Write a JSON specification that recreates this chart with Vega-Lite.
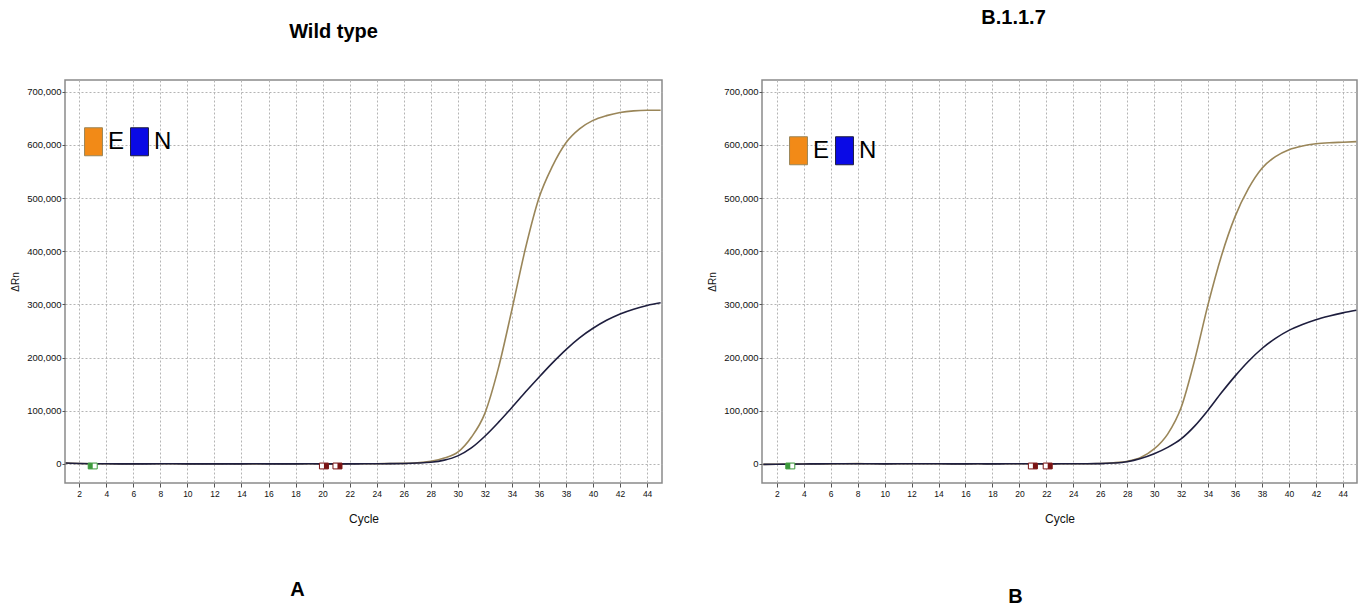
{
  "$schema": "https://vega.github.io/schema/vega-lite/v6.json",
  "padding": {"left": 9, "top": 7, "right": 0, "bottom": 0},
  "background": "white",
  "config": {
    "view": {"stroke": "#8a8a8a", "strokeWidth": 1.5},
    "axis": {
      "domain": false,
      "tickColor": "#555",
      "tickSize": 3,
      "labelColor": "#111",
      "labelFont": "Liberation Sans",
      "gridColor": "#b4b4b4",
      "gridDash": [2, 2],
      "gridWidth": 1,
      "titleFont": "Liberation Sans",
      "titleFontWeight": "normal",
      "titleColor": "#111"
    },
    "title": {"font": "Liberation Sans", "fontSize": 20, "fontWeight": "bold", "color": "#000", "frame": "group"}
  },
  "datasets": {
    "curves": [
      {"sample":"WT","gene":"E","cycle":1,"drn":1500},{"sample":"WT","gene":"E","cycle":2,"drn":800},{"sample":"WT","gene":"E","cycle":3,"drn":300},{"sample":"WT","gene":"E","cycle":4,"drn":100},{"sample":"WT","gene":"E","cycle":5,"drn":0},{"sample":"WT","gene":"E","cycle":6,"drn":0},{"sample":"WT","gene":"E","cycle":7,"drn":100},{"sample":"WT","gene":"E","cycle":8,"drn":200},{"sample":"WT","gene":"E","cycle":9,"drn":100},{"sample":"WT","gene":"E","cycle":10,"drn":0},{"sample":"WT","gene":"E","cycle":11,"drn":-100},{"sample":"WT","gene":"E","cycle":12,"drn":0},{"sample":"WT","gene":"E","cycle":13,"drn":100},{"sample":"WT","gene":"E","cycle":14,"drn":0},{"sample":"WT","gene":"E","cycle":15,"drn":0},{"sample":"WT","gene":"E","cycle":16,"drn":100},{"sample":"WT","gene":"E","cycle":17,"drn":0},{"sample":"WT","gene":"E","cycle":18,"drn":0},{"sample":"WT","gene":"E","cycle":19,"drn":100},{"sample":"WT","gene":"E","cycle":20,"drn":0},{"sample":"WT","gene":"E","cycle":21,"drn":0},{"sample":"WT","gene":"E","cycle":22,"drn":100},{"sample":"WT","gene":"E","cycle":23,"drn":200},{"sample":"WT","gene":"E","cycle":24,"drn":300},{"sample":"WT","gene":"E","cycle":25,"drn":500},{"sample":"WT","gene":"E","cycle":26,"drn":900},{"sample":"WT","gene":"E","cycle":27,"drn":2000},{"sample":"WT","gene":"E","cycle":28,"drn":5000},{"sample":"WT","gene":"E","cycle":29,"drn":11000},{"sample":"WT","gene":"E","cycle":30,"drn":22000},{"sample":"WT","gene":"E","cycle":31,"drn":50000},{"sample":"WT","gene":"E","cycle":32,"drn":95000},{"sample":"WT","gene":"E","cycle":33,"drn":180000},{"sample":"WT","gene":"E","cycle":34,"drn":290000},{"sample":"WT","gene":"E","cycle":35,"drn":405000},{"sample":"WT","gene":"E","cycle":36,"drn":500000},{"sample":"WT","gene":"E","cycle":37,"drn":560000},{"sample":"WT","gene":"E","cycle":38,"drn":604000},{"sample":"WT","gene":"E","cycle":39,"drn":630000},{"sample":"WT","gene":"E","cycle":40,"drn":646000},{"sample":"WT","gene":"E","cycle":41,"drn":655000},{"sample":"WT","gene":"E","cycle":42,"drn":661000},{"sample":"WT","gene":"E","cycle":43,"drn":664000},{"sample":"WT","gene":"E","cycle":44,"drn":665000},{"sample":"WT","gene":"E","cycle":45,"drn":665000},
      {"sample":"WT","gene":"N","cycle":1,"drn":1500},{"sample":"WT","gene":"N","cycle":2,"drn":800},{"sample":"WT","gene":"N","cycle":3,"drn":300},{"sample":"WT","gene":"N","cycle":4,"drn":100},{"sample":"WT","gene":"N","cycle":5,"drn":0},{"sample":"WT","gene":"N","cycle":6,"drn":0},{"sample":"WT","gene":"N","cycle":7,"drn":0},{"sample":"WT","gene":"N","cycle":8,"drn":100},{"sample":"WT","gene":"N","cycle":9,"drn":100},{"sample":"WT","gene":"N","cycle":10,"drn":0},{"sample":"WT","gene":"N","cycle":11,"drn":0},{"sample":"WT","gene":"N","cycle":12,"drn":-100},{"sample":"WT","gene":"N","cycle":13,"drn":0},{"sample":"WT","gene":"N","cycle":14,"drn":0},{"sample":"WT","gene":"N","cycle":15,"drn":100},{"sample":"WT","gene":"N","cycle":16,"drn":0},{"sample":"WT","gene":"N","cycle":17,"drn":0},{"sample":"WT","gene":"N","cycle":18,"drn":0},{"sample":"WT","gene":"N","cycle":19,"drn":100},{"sample":"WT","gene":"N","cycle":20,"drn":0},{"sample":"WT","gene":"N","cycle":21,"drn":0},{"sample":"WT","gene":"N","cycle":22,"drn":0},{"sample":"WT","gene":"N","cycle":23,"drn":100},{"sample":"WT","gene":"N","cycle":24,"drn":200},{"sample":"WT","gene":"N","cycle":25,"drn":400},{"sample":"WT","gene":"N","cycle":26,"drn":700},{"sample":"WT","gene":"N","cycle":27,"drn":1500},{"sample":"WT","gene":"N","cycle":28,"drn":3000},{"sample":"WT","gene":"N","cycle":29,"drn":7000},{"sample":"WT","gene":"N","cycle":30,"drn":15000},{"sample":"WT","gene":"N","cycle":31,"drn":30000},{"sample":"WT","gene":"N","cycle":32,"drn":52000},{"sample":"WT","gene":"N","cycle":33,"drn":78000},{"sample":"WT","gene":"N","cycle":34,"drn":106000},{"sample":"WT","gene":"N","cycle":35,"drn":135000},{"sample":"WT","gene":"N","cycle":36,"drn":163000},{"sample":"WT","gene":"N","cycle":37,"drn":190000},{"sample":"WT","gene":"N","cycle":38,"drn":215000},{"sample":"WT","gene":"N","cycle":39,"drn":237000},{"sample":"WT","gene":"N","cycle":40,"drn":255000},{"sample":"WT","gene":"N","cycle":41,"drn":270000},{"sample":"WT","gene":"N","cycle":42,"drn":282000},{"sample":"WT","gene":"N","cycle":43,"drn":291000},{"sample":"WT","gene":"N","cycle":44,"drn":298000},{"sample":"WT","gene":"N","cycle":45,"drn":303000},
      {"sample":"B117","gene":"E","cycle":1,"drn":-1000},{"sample":"B117","gene":"E","cycle":2,"drn":-800},{"sample":"B117","gene":"E","cycle":3,"drn":-500},{"sample":"B117","gene":"E","cycle":4,"drn":-200},{"sample":"B117","gene":"E","cycle":5,"drn":0},{"sample":"B117","gene":"E","cycle":6,"drn":0},{"sample":"B117","gene":"E","cycle":7,"drn":200},{"sample":"B117","gene":"E","cycle":8,"drn":400},{"sample":"B117","gene":"E","cycle":9,"drn":200},{"sample":"B117","gene":"E","cycle":10,"drn":0},{"sample":"B117","gene":"E","cycle":11,"drn":100},{"sample":"B117","gene":"E","cycle":12,"drn":300},{"sample":"B117","gene":"E","cycle":13,"drn":200},{"sample":"B117","gene":"E","cycle":14,"drn":100},{"sample":"B117","gene":"E","cycle":15,"drn":0},{"sample":"B117","gene":"E","cycle":16,"drn":0},{"sample":"B117","gene":"E","cycle":17,"drn":100},{"sample":"B117","gene":"E","cycle":18,"drn":0},{"sample":"B117","gene":"E","cycle":19,"drn":200},{"sample":"B117","gene":"E","cycle":20,"drn":300},{"sample":"B117","gene":"E","cycle":21,"drn":100},{"sample":"B117","gene":"E","cycle":22,"drn":0},{"sample":"B117","gene":"E","cycle":23,"drn":100},{"sample":"B117","gene":"E","cycle":24,"drn":200},{"sample":"B117","gene":"E","cycle":25,"drn":300},{"sample":"B117","gene":"E","cycle":26,"drn":600},{"sample":"B117","gene":"E","cycle":27,"drn":2000},{"sample":"B117","gene":"E","cycle":28,"drn":5000},{"sample":"B117","gene":"E","cycle":29,"drn":12000},{"sample":"B117","gene":"E","cycle":30,"drn":28000},{"sample":"B117","gene":"E","cycle":31,"drn":56000},{"sample":"B117","gene":"E","cycle":32,"drn":106000},{"sample":"B117","gene":"E","cycle":33,"drn":195000},{"sample":"B117","gene":"E","cycle":34,"drn":300000},{"sample":"B117","gene":"E","cycle":35,"drn":392000},{"sample":"B117","gene":"E","cycle":36,"drn":465000},{"sample":"B117","gene":"E","cycle":37,"drn":518000},{"sample":"B117","gene":"E","cycle":38,"drn":556000},{"sample":"B117","gene":"E","cycle":39,"drn":578000},{"sample":"B117","gene":"E","cycle":40,"drn":591000},{"sample":"B117","gene":"E","cycle":41,"drn":598000},{"sample":"B117","gene":"E","cycle":42,"drn":602000},{"sample":"B117","gene":"E","cycle":43,"drn":604000},{"sample":"B117","gene":"E","cycle":44,"drn":605000},{"sample":"B117","gene":"E","cycle":45,"drn":606000},
      {"sample":"B117","gene":"N","cycle":1,"drn":-1000},{"sample":"B117","gene":"N","cycle":2,"drn":-800},{"sample":"B117","gene":"N","cycle":3,"drn":-500},{"sample":"B117","gene":"N","cycle":4,"drn":-200},{"sample":"B117","gene":"N","cycle":5,"drn":0},{"sample":"B117","gene":"N","cycle":6,"drn":100},{"sample":"B117","gene":"N","cycle":7,"drn":200},{"sample":"B117","gene":"N","cycle":8,"drn":300},{"sample":"B117","gene":"N","cycle":9,"drn":200},{"sample":"B117","gene":"N","cycle":10,"drn":0},{"sample":"B117","gene":"N","cycle":11,"drn":100},{"sample":"B117","gene":"N","cycle":12,"drn":200},{"sample":"B117","gene":"N","cycle":13,"drn":200},{"sample":"B117","gene":"N","cycle":14,"drn":100},{"sample":"B117","gene":"N","cycle":15,"drn":0},{"sample":"B117","gene":"N","cycle":16,"drn":0},{"sample":"B117","gene":"N","cycle":17,"drn":100},{"sample":"B117","gene":"N","cycle":18,"drn":0},{"sample":"B117","gene":"N","cycle":19,"drn":100},{"sample":"B117","gene":"N","cycle":20,"drn":200},{"sample":"B117","gene":"N","cycle":21,"drn":100},{"sample":"B117","gene":"N","cycle":22,"drn":0},{"sample":"B117","gene":"N","cycle":23,"drn":100},{"sample":"B117","gene":"N","cycle":24,"drn":200},{"sample":"B117","gene":"N","cycle":25,"drn":300},{"sample":"B117","gene":"N","cycle":26,"drn":500},{"sample":"B117","gene":"N","cycle":27,"drn":1500},{"sample":"B117","gene":"N","cycle":28,"drn":4000},{"sample":"B117","gene":"N","cycle":29,"drn":10000},{"sample":"B117","gene":"N","cycle":30,"drn":19000},{"sample":"B117","gene":"N","cycle":31,"drn":31000},{"sample":"B117","gene":"N","cycle":32,"drn":47000},{"sample":"B117","gene":"N","cycle":33,"drn":71000},{"sample":"B117","gene":"N","cycle":34,"drn":101000},{"sample":"B117","gene":"N","cycle":35,"drn":134000},{"sample":"B117","gene":"N","cycle":36,"drn":165000},{"sample":"B117","gene":"N","cycle":37,"drn":193000},{"sample":"B117","gene":"N","cycle":38,"drn":217000},{"sample":"B117","gene":"N","cycle":39,"drn":236000},{"sample":"B117","gene":"N","cycle":40,"drn":251000},{"sample":"B117","gene":"N","cycle":41,"drn":262000},{"sample":"B117","gene":"N","cycle":42,"drn":271000},{"sample":"B117","gene":"N","cycle":43,"drn":278000},{"sample":"B117","gene":"N","cycle":44,"drn":284000},{"sample":"B117","gene":"N","cycle":45,"drn":289000}
    ],
    "markers": [
      {"sample":"WT","kind":"baseline","cycle":3,"drn":-4000},
      {"sample":"WT","kind":"threshold","cycle":20.1,"drn":-4000},
      {"sample":"WT","kind":"threshold","cycle":21.1,"drn":-4000},
      {"sample":"B117","kind":"baseline","cycle":3,"drn":-4000},
      {"sample":"B117","kind":"threshold","cycle":21,"drn":-4000},
      {"sample":"B117","kind":"threshold","cycle":22.1,"drn":-4000}
    ]
  },
  "spacing": 43,
  "resolve": {"scale": {"stroke": "independent"}, "legend": {"stroke": "independent"}},
  "hconcat": [
    {
      "width": 597,
      "height": 403,
      "title": {"text": "Wild type", "dx": -30, "offset": 38},
      "resolve": {"axis": {"x": "independent"}},
      "layer": [
        {
          "data": {"name": "curves"},
          "transform": [{"filter": "datum.sample === 'WT'"}],
          "mark": {"type": "line", "interpolate": "monotone", "strokeWidth": 1.6, "clip": true},
          "encoding": {
            "x": {"field": "cycle", "type": "quantitative", "scale": {"domain": [0.95, 45.1], "nice": false, "zero": false},
                  "axis": {"values": [2,4,6,8,10,12,14,16,18,20,22,24,26,28,30,32,34,36,38,40,42,44], "title": "Cycle", "titleFontSize": 12, "titlePadding": 16, "labelFontSize": 8.5, "labelPadding": 2, "tickSize": 4, "grid": true}},
            "y": {"field": "drn", "type": "quantitative", "scale": {"domain": [-36000, 722000], "nice": false, "zero": false},
                  "axis": {"values": [0,50000,100000,150000,200000,250000,300000,350000,400000,450000,500000,550000,600000,650000,700000], "format": ",.0f", "title": "ΔRn", "titleFontSize": 10, "titlePadding": 6, "labelFontSize": 9.5, "labelPadding": 1, "grid": true}},
            "stroke": {"field": "gene", "type": "nominal", "scale": {"domain": ["E", "N"], "range": ["#9a8659", "#1e1e3e"]},
                       "legend": {"orient": "none", "legendX": 14, "legendY": 47, "direction": "horizontal", "title": null, "padding": 0,
                                  "symbolType": "M-0.64,-1H0.64V1H-0.64Z", "symbolSize": 784, "symbolStrokeWidth": 1,
                                  "labelFont": "Liberation Sans", "labelFontSize": 24, "labelColor": "#000", "labelOffset": 0, "columnPadding": -2,
                                  "encode": {"symbols": {"update": {"fill": {"signal": "datum.value === 'E' ? '#f28a17' : '#0a0ae6'"}, "stroke": {"signal": "datum.value === 'E' ? '#d9a55a' : '#202050'"}, "opacity": {"value": 1}, "fillOpacity": {"value": 1}}}}}}
          }
        },
        {
          "data": {"name": "markers"},
          "transform": [{"filter": "datum.sample === 'WT'"}],
          "mark": {"type": "point", "shape": "M-1,-0.65H1V0.65H-1Z", "size": 81, "filled": false, "fill": "white", "strokeWidth": 1, "opacity": 1},
          "encoding": {
            "x": {"field": "cycle", "type": "quantitative", "axis": null},
            "y": {"field": "drn", "type": "quantitative"},
            "color": {"field": "kind", "type": "nominal", "scale": {"domain": ["baseline", "threshold"], "range": ["#3c9a3c", "#7a1414"]}, "legend": null}
          }
        },
        {
          "data": {"name": "markers"},
          "transform": [{"filter": "datum.sample === 'WT'"}],
          "mark": {"type": "point", "size": 81, "filled": true, "opacity": 1, "strokeWidth": 0},
          "encoding": {
            "x": {"field": "cycle", "type": "quantitative",
                  "axis": {"orient": "bottom", "grid": false, "labels": false, "ticks": false, "domain": false, "title": "A", "titleFont": "Liberation Sans", "titleFontSize": 20, "titleFontWeight": "bold", "titleColor": "#000", "titleX": 232, "titleY": 106, "titleBaseline": "middle"}},
            "y": {"field": "drn", "type": "quantitative"},
            "shape": {"field": "kind", "type": "nominal", "scale": {"domain": ["baseline", "threshold"], "range": ["M-1,-0.65H0V0.65H-1Z", "M0,-0.65H1V0.65H0Z"]}, "legend": null},
            "fill": {"field": "kind", "type": "nominal", "scale": {"domain": ["baseline", "threshold"], "range": ["#3c9a3c", "#7a1414"]}, "legend": null}
          }
        }
      ]
    },
    {
      "width": 595,
      "height": 403,
      "title": {"text": "B.1.1.7", "dx": -46, "offset": 52},
      "resolve": {"axis": {"x": "independent"}},
      "layer": [
        {
          "data": {"name": "curves"},
          "transform": [{"filter": "datum.sample === 'B117'"}],
          "mark": {"type": "line", "interpolate": "monotone", "strokeWidth": 1.6, "clip": true},
          "encoding": {
            "x": {"field": "cycle", "type": "quantitative", "scale": {"domain": [0.9, 45.05], "nice": false, "zero": false},
                  "axis": {"values": [2,4,6,8,10,12,14,16,18,20,22,24,26,28,30,32,34,36,38,40,42,44], "title": "Cycle", "titleFontSize": 12, "titlePadding": 16, "labelFontSize": 8.5, "labelPadding": 2, "tickSize": 4, "grid": true}},
            "y": {"field": "drn", "type": "quantitative", "scale": {"domain": [-36000, 722000], "nice": false, "zero": false},
                  "axis": {"values": [0,50000,100000,150000,200000,250000,300000,350000,400000,450000,500000,550000,600000,650000,700000], "format": ",.0f", "title": "ΔRn", "titleFontSize": 10, "titlePadding": 6, "labelFontSize": 9.5, "labelPadding": 1, "grid": true}},
            "stroke": {"field": "gene", "type": "nominal", "scale": {"domain": ["E", "N"], "range": ["#9a8659", "#1e1e3e"]},
                       "legend": {"orient": "none", "legendX": 22, "legendY": 56, "direction": "horizontal", "title": null, "padding": 0,
                                  "symbolType": "M-0.64,-1H0.64V1H-0.64Z", "symbolSize": 784, "symbolStrokeWidth": 1,
                                  "labelFont": "Liberation Sans", "labelFontSize": 24, "labelColor": "#000", "labelOffset": 0, "columnPadding": 0,
                                  "encode": {"symbols": {"update": {"fill": {"signal": "datum.value === 'E' ? '#f28a17' : '#0a0ae6'"}, "stroke": {"signal": "datum.value === 'E' ? '#d9a55a' : '#202050'"}, "opacity": {"value": 1}, "fillOpacity": {"value": 1}}}}}}
          }
        },
        {
          "data": {"name": "markers"},
          "transform": [{"filter": "datum.sample === 'B117'"}],
          "mark": {"type": "point", "shape": "M-1,-0.65H1V0.65H-1Z", "size": 81, "filled": false, "fill": "white", "strokeWidth": 1, "opacity": 1},
          "encoding": {
            "x": {"field": "cycle", "type": "quantitative", "axis": null},
            "y": {"field": "drn", "type": "quantitative"},
            "color": {"field": "kind", "type": "nominal", "scale": {"domain": ["baseline", "threshold"], "range": ["#3c9a3c", "#7a1414"]}, "legend": null}
          }
        },
        {
          "data": {"name": "markers"},
          "transform": [{"filter": "datum.sample === 'B117'"}],
          "mark": {"type": "point", "size": 81, "filled": true, "opacity": 1, "strokeWidth": 0},
          "encoding": {
            "x": {"field": "cycle", "type": "quantitative",
                  "axis": {"orient": "bottom", "grid": false, "labels": false, "ticks": false, "domain": false, "title": "B", "titleFont": "Liberation Sans", "titleFontSize": 20, "titleFontWeight": "bold", "titleColor": "#000", "titleX": 253, "titleY": 113, "titleBaseline": "middle"}},
            "y": {"field": "drn", "type": "quantitative"},
            "shape": {"field": "kind", "type": "nominal", "scale": {"domain": ["baseline", "threshold"], "range": ["M-1,-0.65H0V0.65H-1Z", "M0,-0.65H1V0.65H0Z"]}, "legend": null},
            "fill": {"field": "kind", "type": "nominal", "scale": {"domain": ["baseline", "threshold"], "range": ["#3c9a3c", "#7a1414"]}, "legend": null}
          }
        }
      ]
    }
  ]
}
